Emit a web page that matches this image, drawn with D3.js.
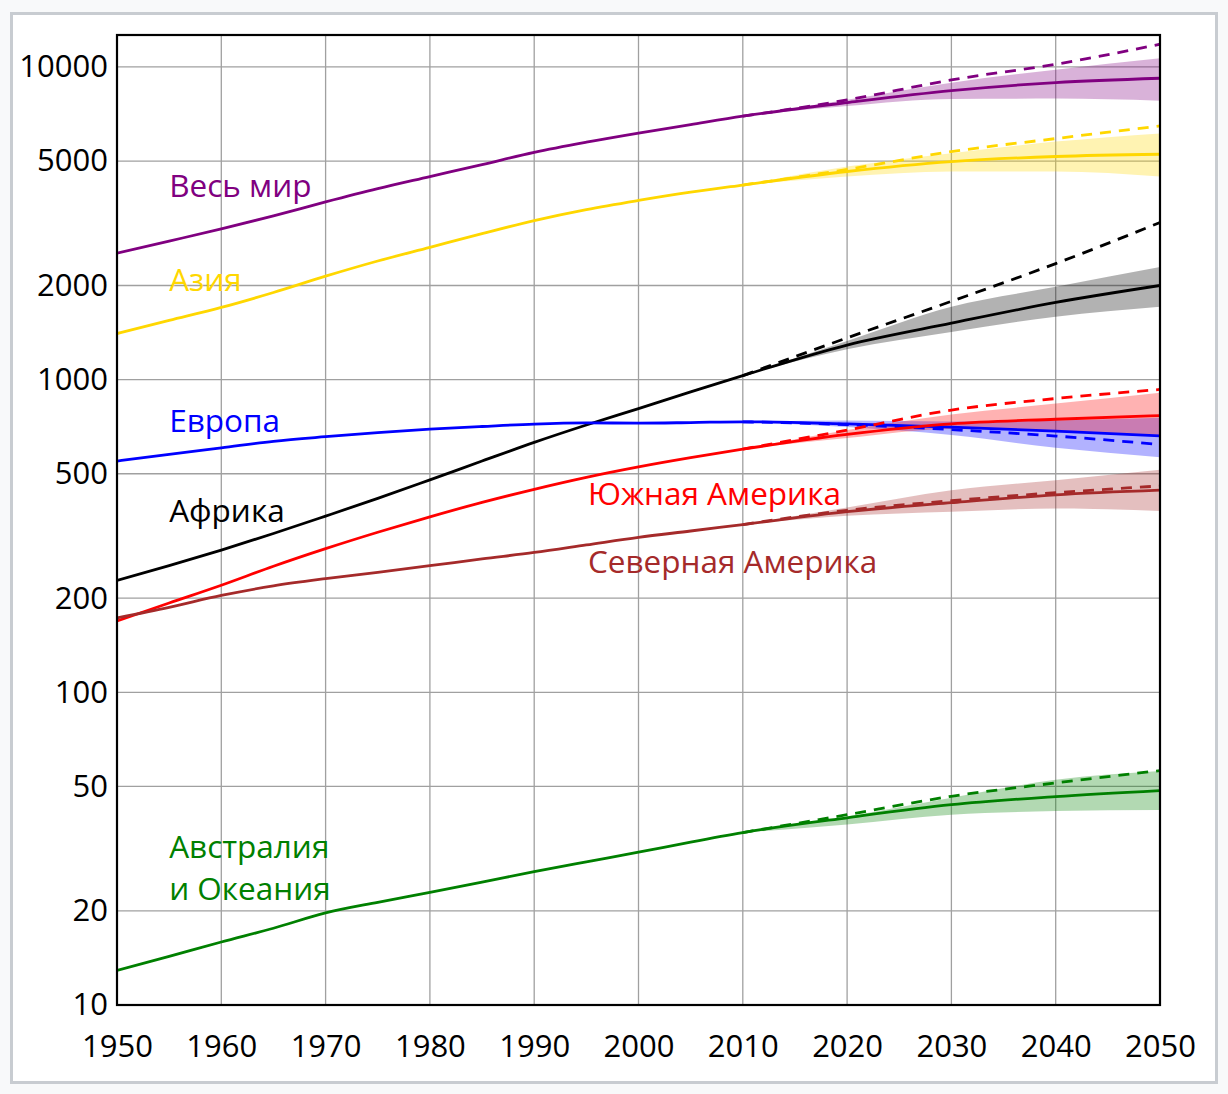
<!DOCTYPE html>
<html>
<head>
<meta charset="utf-8">
<script src="https://cdn.jsdelivr.net/npm/d3@7"></script>
<style>
  html, body { margin: 0; padding: 0; background: #f8f9fa; }
  svg { display: block; font-family: "Open Sans", "Noto Sans", sans-serif; }
</style>
</head>
<body>
<svg id="chart" width="1228" height="1094"></svg>
<script>
// population in millions (log scale)
const histYears = [1950, 1955, 1960, 1965, 1970, 1975, 1980, 1985, 1990, 1995, 2000, 2005, 2010];
const projYears = [2010, 2020, 2030, 2040, 2050];

const worldHist   = [2536, 2773, 3035, 3340, 3700, 4079, 4458, 4871, 5331, 5745, 6145, 6542, 6958];
const worldMed    = [6958, 7690, 8400, 8910, 9200];
const worldHigh   = [6958, 7840, 9090, 10200, 11820];
const worldLo     = [6958, 7500, 7900, 7920, 7800];
const worldUp     = [6958, 7850, 8900, 9800, 10660];

const asiaHist    = [1404, 1546, 1701, 1899, 2142, 2395, 2649, 2930, 3226, 3498, 3741, 3975, 4190];
const asiaMed     = [4190, 4630, 4980, 5170, 5257];
const asiaHigh    = [4190, 4700, 5360, 5900, 6475];
const asiaLo      = [4190, 4460, 4630, 4630, 4460];
const asiaUp      = [4190, 4800, 5300, 5770, 6130];

const africaHist  = [228, 254, 285, 322, 366, 417, 478, 549, 630, 716, 808, 914, 1030];
const africaMed   = [1030, 1290, 1515, 1765, 2000];
const africaHigh  = [1030, 1360, 1780, 2350, 3180];
const africaLo    = [1030, 1250, 1420, 1590, 1710];
const africaUp    = [1030, 1330, 1710, 1980, 2290];

const europeHist  = [549, 577, 605, 635, 657, 677, 694, 708, 721, 727, 726, 729, 733];
const europeMed   = [733, 722, 705, 684, 661];
const europeHigh  = [733, 718, 692, 660, 620];
const europeLo    = [733, 705, 665, 605, 565];
const europeUp    = [733, 740, 735, 740, 755];

const latamHist   = [169, 193, 220, 253, 288, 325, 364, 405, 446, 487, 526, 563, 599];
const latamMed    = [599, 668, 722, 747, 767];
const latamHigh   = [599, 690, 799, 870, 930];
const latamLo     = [599, 650, 695, 683, 660];
const latamUp     = [599, 690, 773, 838, 908];

const namHist     = [173, 187, 204, 219, 231, 242, 254, 267, 280, 296, 313, 328, 344];
const namMed      = [344, 378, 404, 428, 443];
const namHigh     = [344, 382, 410, 435, 457];
const namLo       = [344, 367, 378, 387, 380];
const namUp       = [344, 390, 443, 477, 515];

const oceHist     = [12.9, 14.3, 15.9, 17.6, 19.7, 21.3, 22.9, 24.7, 26.7, 28.7, 30.8, 33.2, 35.6];
const oceMed      = [35.6, 39.7, 43.7, 46.4, 48.5];
const oceHigh     = [35.6, 40.6, 46.5, 51.3, 56.2];
const oceLo       = [35.6, 37.8, 40.6, 41.7, 42.0];
const oceUp       = [35.6, 40.1, 46.0, 52.5, 56.0];

const yTicks = [10, 20, 50, 100, 200, 500, 1000, 2000, 5000, 10000];
const xTicks = [1950, 1960, 1970, 1980, 1990, 2000, 2010, 2020, 2030, 2040, 2050];

const series = [
  { name: "world",  color: "#800080", hist: worldHist,  med: worldMed,  high: worldHigh,  lo: worldLo,  up: worldUp },
  { name: "asia",   color: "#ffd700", hist: asiaHist,   med: asiaMed,   high: asiaHigh,   lo: asiaLo,   up: asiaUp },
  { name: "africa", color: "#000000", hist: africaHist, med: africaMed, high: africaHigh, lo: africaLo, up: africaUp },
  { name: "europe", color: "#0000ff", hist: europeHist, med: europeMed, high: europeHigh, lo: europeLo, up: europeUp },
  { name: "latam",  color: "#ff0000", hist: latamHist,  med: latamMed,  high: latamHigh,  lo: latamLo,  up: latamUp },
  { name: "nam",    color: "#a52a2a", hist: namHist,    med: namMed,    high: namHigh,    lo: namLo,    up: namUp },
  { name: "oce",    color: "#008000", hist: oceHist,    med: oceMed,    high: oceHigh,    lo: oceLo,    up: oceUp }
];

// label anchors (year, value at the text baseline)
const labels = [
  { lines: ["Весь мир"], color: "#800080", year: 1955, value: 3840 },
  { lines: ["Азия"], color: "#ffd700", year: 1955, value: 1920 },
  { lines: ["Европа"], color: "#0000ff", year: 1955, value: 680 },
  { lines: ["Африка"], color: "#000000", year: 1955, value: 351 },
  { lines: ["Южная Америка"], color: "#ff0000", year: 1995.15, value: 397 },
  { lines: ["Северная Америка"], color: "#a52a2a", year: 1995.15, value: 240 },
  { lines: ["Австралия", "и Океания"], color: "#008000", year: 1955, value: 29.5 }
];

const svg = d3.select("#chart");

// page frame
svg.append("rect")
  .attr("x", 11.5).attr("y", 13.5)
  .attr("width", 1205).attr("height", 1069)
  .attr("fill", "#fff")
  .attr("stroke", "#c8ccd1")
  .attr("stroke-width", 3);

const plot = { left: 117, right: 1160, top: 35, bottom: 1005 };

const x = d3.scaleLinear()
  .domain([1950, 2050])
  .range([plot.left, plot.right]);

const y = d3.scaleLog()
  .domain([10, 12650])
  .range([plot.bottom, plot.top]);

// grid
const grid = svg.append("g");
grid.selectAll("line.gx")
  .data(xTicks)
  .join("line")
  .attr("x1", d => x(d)).attr("x2", d => x(d))
  .attr("y1", plot.top).attr("y2", plot.bottom)
  .attr("stroke", "#a0a0a0")
  .attr("stroke-width", 1.3);
grid.selectAll("line.gy")
  .data(yTicks)
  .join("line")
  .attr("x1", plot.left).attr("x2", plot.right)
  .attr("y1", d => y(d)).attr("y2", d => y(d))
  .attr("stroke", "#a0a0a0")
  .attr("stroke-width", 1.3);

// axes (labels only, frame drawn separately)
const yAxis = svg.append("g")
  .attr("transform", `translate(${plot.left},0)`)
  .call(d3.axisLeft(y).tickValues(yTicks).tickFormat(d3.format("d")).tickSize(0).tickPadding(9));
yAxis.select(".domain").remove();
yAxis.selectAll("text")
  .attr("font-size", 31)
  .attr("font-family", "'Open Sans', sans-serif")
  .attr("fill", "#000");

const xAxis = svg.append("g")
  .attr("transform", `translate(0,${plot.bottom})`)
  .call(d3.axisBottom(x).tickValues(xTicks).tickFormat(d3.format("d")).tickSize(0).tickPadding(30));
xAxis.select(".domain").remove();
xAxis.selectAll("text")
  .attr("font-size", 31)
  .attr("font-family", "'Open Sans', sans-serif")
  .attr("fill", "#000");

const curve = d3.curveMonotoneX;

const area = d3.area()
  .x(d => x(d.year))
  .y0(d => y(d.lo))
  .y1(d => y(d.up))
  .curve(curve);

const line = d3.line()
  .x(d => x(d.year))
  .y(d => y(d.v))
  .curve(curve);

svg.append("clipPath").attr("id", "clip")
  .append("rect")
  .attr("x", plot.left).attr("y", plot.top)
  .attr("width", plot.right - plot.left).attr("height", plot.bottom - plot.top);

const marks = svg.append("g").attr("clip-path", "url(#clip)");

// uncertainty bands
series.forEach(s => {
  const band = projYears.map((yr, i) => ({ year: yr, lo: s.lo[i], up: s.up[i] }));
  marks.append("path")
    .datum(band)
    .attr("d", area)
    .attr("fill", s.color)
    .attr("fill-opacity", 0.3);
});

// lines
series.forEach(s => {
  const full = histYears.map((yr, i) => ({ year: yr, v: s.hist[i] }))
    .concat(projYears.slice(1).map((yr, i) => ({ year: yr, v: s.med[i + 1] })));
  const high = projYears.map((yr, i) => ({ year: yr, v: s.high[i] }));

  marks.append("path")
    .datum(high)
    .attr("d", line)
    .attr("fill", "none")
    .attr("stroke", s.color)
    .attr("stroke-width", 2.8)
    .attr("stroke-dasharray", "11,8");

  marks.append("path")
    .datum(full)
    .attr("d", line)
    .attr("fill", "none")
    .attr("stroke", s.color)
    .attr("stroke-width", 2.8);
});

// plot frame
svg.append("rect")
  .attr("x", plot.left).attr("y", plot.top)
  .attr("width", plot.right - plot.left).attr("height", plot.bottom - plot.top)
  .attr("fill", "none")
  .attr("stroke", "#000")
  .attr("stroke-width", 2.2);

// series labels
labels.forEach(l => {
  const t = svg.append("text")
    .attr("x", x(l.year))
    .attr("y", y(l.value))
    .attr("fill", l.color)
    .attr("font-size", 31.5);
  l.lines.forEach((s, i) => {
    t.append("tspan")
      .attr("x", x(l.year))
      .attr("dy", i === 0 ? 0 : 41.7)
      .text(s);
  });
});
</script>
</body>
</html>
